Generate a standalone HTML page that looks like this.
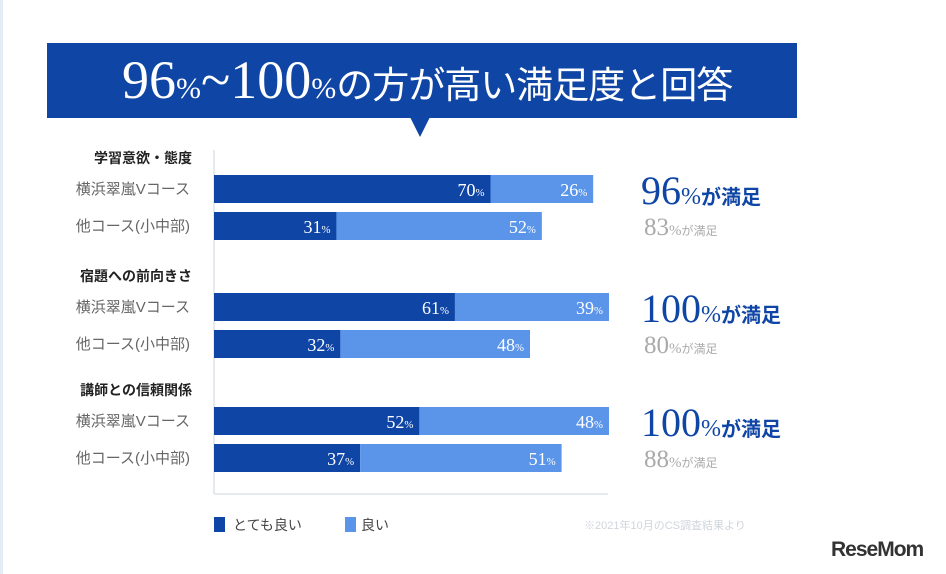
<!DOCTYPE html>
<html><head><meta charset="utf-8"><style>
body{margin:0;width:946px;height:574px;background:#fff;position:relative;overflow:hidden;font-family:"Liberation Sans","Noto Sans CJK JP",sans-serif}
.abs{position:absolute;white-space:nowrap}
.serif{font-family:"Liberation Serif","Noto Serif CJK SC",serif}
</style></head><body>
<div class="abs" style="left:0;top:0;width:3px;height:574px;background:#e4ecf6"></div>
<div class="abs" style="left:47px;top:43px;width:750px;height:75px;background:#0f46a6"></div>
<div class="abs" style="left:410px;top:117px;width:0;height:0;border-left:10px solid transparent;border-right:10px solid transparent;border-top:20px solid #0f46a6"></div>
<div class="abs serif" style="left:122px;top:50px;color:#fff;font-size:54px;line-height:60px"><span>96</span><span style="font-size:30px">%</span><span>~100</span><span style="font-size:30px">%</span><span style="font-family:'Noto Sans CJK JP',sans-serif;font-size:37px;letter-spacing:-1px">の方が高い満足度と回答</span></div>
<svg class="abs" style="left:0;top:0" width="946" height="574" id="svg"></svg>
<script>
const groups=["学習意欲・態度","宿題への前向きさ","講師との信頼関係"];
const rowLabels=["横浜翠嵐Vコース","他コース(小中部)"];
const veryGood=[70,31,61,32,52,37];
const good=[26,52,39,48,48,51];
const totals=[96,83,100,80,100,88];
const ns="http://www.w3.org/2000/svg";
const svg=document.getElementById('svg');
const x0=214,pxPer=3.95;
const xs=v=>x0+v*pxPer;
const groupTop=[175,293,407];
function mk(t,a){const e=document.createElementNS(ns,t);for(const k in a)e.setAttribute(k,a[k]);svg.appendChild(e);return e;}
const ax=mk('line',{x1:x0,y1:150,x2:x0,y2:494,stroke:'#dde3ea','stroke-width':1.5});


const bx=mk('line',{x1:x0,y1:494,x2:608,y2:494,stroke:'#dde3ea','stroke-width':1.5});


function pct(x,y,num,size,color,anchor,dn){
 const t=mk('text',{x:x,y:y,fill:color,'text-anchor':anchor,'font-family':'Liberation Serif, serif','font-size':size});
 
 
 t.textContent=num;
 const s=document.createElementNS(ns,'tspan');s.setAttribute('font-size',size*0.6);s.textContent='%';t.appendChild(s);
}
groups.forEach((g,gi)=>{
 const gl=mk('text',{x:192,y:groupTop[gi]-12,'text-anchor':'end','font-size':14,'font-weight':'bold',fill:'#222'});
 
 
 gl.textContent=g;
 for(let r=0;r<2;r++){
  const i=gi*2+r;const y=groupTop[gi]+r*37;
  const rl=mk('text',{x:190,y:y+19,'text-anchor':'end','font-size':15,fill:'#666'});
  
  
  rl.textContent=rowLabels[r];
  const b1=mk('rect',{x:x0,y:y,width:xs(veryGood[i])-x0,height:28,fill:'#0f46a6'});
  
  
  const b2=mk('rect',{x:xs(veryGood[i]),y:y,width:good[i]*pxPer,height:28,fill:'#5b95ea'});
  
  
  pct(xs(veryGood[i])-6,y+21,veryGood[i],18,'#fff','end','bar-value');
  pct(xs(veryGood[i]+good[i])-6,y+21,good[i],18,'#fff','end','bar-value');
  if(r==0){
   const t=mk('text',{x:641,y:y+29,fill:'#0f46a6','font-family':'Liberation Serif, serif','font-size':40});
   
   
   t.textContent=totals[i];
   const s=document.createElementNS(ns,'tspan');s.setAttribute('font-size',24);s.textContent='%';t.appendChild(s);
   const s2=document.createElementNS(ns,'tspan');s2.setAttribute('font-size',20);s2.setAttribute('font-weight','bold');s2.setAttribute('font-family','Noto Sans CJK JP, sans-serif');s2.textContent='が満足';t.appendChild(s2);
  }else{
   const t=mk('text',{x:644,y:y+23,fill:'#aaa','font-family':'Liberation Serif, serif','font-size':25});
   
   
   t.textContent=totals[i];
   const s=document.createElementNS(ns,'tspan');s.setAttribute('font-size',15);s.textContent='%';t.appendChild(s);
   const s2=document.createElementNS(ns,'tspan');s2.setAttribute('font-size',12);s2.setAttribute('font-family','Noto Sans CJK JP, sans-serif');s2.textContent='が満足';t.appendChild(s2);
  }
 }
});
</script>
<div class="abs" style="left:214px;top:515px;font-size:14px;color:#444"><span style="display:inline-block;width:11px;height:15px;background:#0f46a6;vertical-align:-2px;margin-right:8px"></span>とても良い</div>
<div class="abs" style="left:345px;top:515px;font-size:14px;color:#444"><span style="display:inline-block;width:11px;height:15px;background:#5b95ea;vertical-align:-2px;margin-right:5px"></span>良い</div>
<div class="abs" style="left:584px;top:517px;font-size:11px;color:#d0d5dc">※2021年10月のCS調査結果より</div>
<div class="abs" style="left:831px;top:538px;font-size:21px;font-weight:bold;color:#333;letter-spacing:-1px">ReseMom</div>
</body></html>
